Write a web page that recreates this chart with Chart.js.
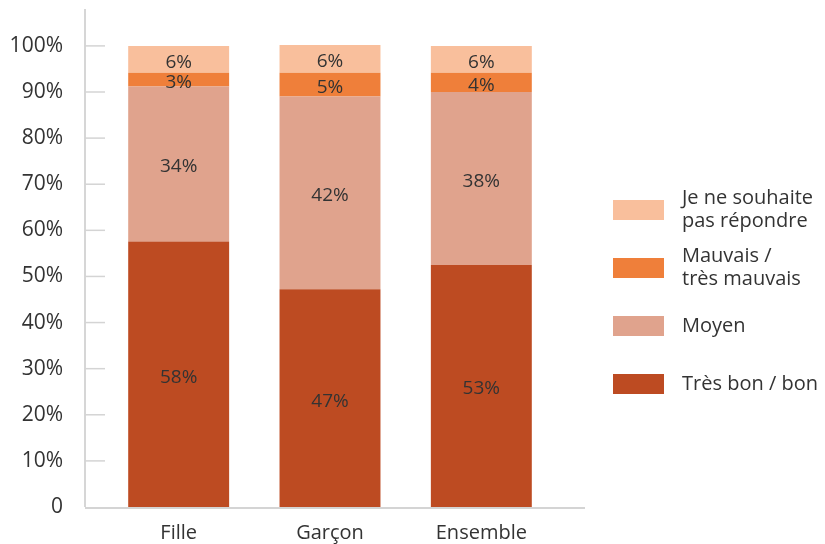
<!DOCTYPE html>
<html>
<head>
<meta charset="utf-8">
<script src="https://cdn.jsdelivr.net/npm/chart.js@4"></script>
<style>
  html, body { margin: 0; padding: 0; background: #fff; }
  #wrap { width: 825px; height: 544px; }
</style>
</head>
<body>
<div id="wrap"><canvas id="chart" width="825" height="544"></canvas></div>
<script>
const categories = ["Fille", "Garçon", "Ensemble"];
const tresBon = [57.6, 47.2, 52.5];
const moyen = [33.6, 41.8, 37.5];
const mauvais = [3.0, 5.2, 4.2];
const nePasRepondre = [5.8, 6.0, 5.8];
const seriesNames = [
  ["Très bon / bon"],
  ["Moyen"],
  ["Mauvais /", "très mauvais"],
  ["Je ne souhaite", "pas répondre"],
];
const yTicks = [0, 10, 20, 30, 40, 50, 60, 70, 80, 90, 100];

const FONT = "'Open Sans', sans-serif";
const TEXT = "#333333";

// axe vertical, petits traits de graduation et axe horizontal (plus longs que la zone du graphe)
const axisLines = {
  id: "axisLines",
  afterDraw(chart) {
    const { ctx } = chart;
    const y = chart.scales.y;
    const x0 = 85;
    ctx.save();
    ctx.strokeStyle = "#c8c8c8";
    ctx.lineWidth = 1.5;
    ctx.beginPath();
    ctx.moveTo(x0, y.getPixelForValue(y.max));
    ctx.lineTo(x0, y.getPixelForValue(0));
    ctx.stroke();
    ctx.strokeStyle = "#d4d4d4";
    y.ticks.forEach(t => {
      if (t.value === 0) return;
      const py = y.getPixelForValue(t.value);
      ctx.beginPath();
      ctx.moveTo(x0, py);
      ctx.lineTo(x0 + 20, py);
      ctx.stroke();
    });
    ctx.lineWidth = 2;
    ctx.beginPath();
    ctx.moveTo(x0, y.getPixelForValue(0) + 1);
    ctx.lineTo(585, y.getPixelForValue(0) + 1);
    ctx.stroke();
    ctx.restore();
  },
};

const barLabels = {
  id: "barLabels",
  afterDatasetsDraw(chart) {
    const { ctx } = chart;
    ctx.save();
    ctx.font = "19px " + FONT;
    ctx.fillStyle = TEXT;
    ctx.textAlign = "center";
    ctx.textBaseline = "middle";
    chart.data.datasets.forEach((ds, i) => {
      chart.getDatasetMeta(i).data.forEach((bar, j) => {
        const { x, y, base } = bar.getProps(["x", "y", "base"], true);
        ctx.fillText(Math.round(ds.data[j]) + "%", x, (y + base) / 2 + 3);
      });
    });
    ctx.restore();
  },
};

const sideLegend = {
  id: "sideLegend",
  afterDraw(chart) {
    const { ctx } = chart;
    const ds = chart.data.datasets;
    ctx.save();
    ctx.font = "20px " + FONT;
    ctx.textBaseline = "middle";
    const n = ds.length;
    for (let k = 0; k < n; k++) {
      const d = ds[n - 1 - k];
      const cy = 210 + k * 58;
      ctx.fillStyle = d.backgroundColor;
      ctx.fillRect(613, cy - 10, 51, 20);
      ctx.fillStyle = TEXT;
      const lines = d.labelLines;
      lines.forEach((ln, li) => {
        ctx.fillText(ln, 682, cy + (li - (lines.length - 1) / 2) * 23);
      });
    }
    ctx.restore();
  },
};

const colors = ["#BD4B22", "#E0A38D", "#EF7F3A", "#F9BF9C"];
const values = [tresBon, moyen, mauvais, nePasRepondre];

new Chart(document.getElementById("chart"), {
  type: "bar",
  data: {
    labels: categories,
    datasets: values.map((v, i) => ({
      label: seriesNames[i].join(" "),
      labelLines: seriesNames[i],
      data: v,
      backgroundColor: colors[i],
      borderWidth: 0,
      barPercentage: 0.667,
      categoryPercentage: 1,
    })),
  },
  options: {
    responsive: false,
    animation: false,
    layout: { padding: { top: 9, right: 268, left: 0, bottom: 0 } },
    plugins: { legend: { display: false }, tooltip: { enabled: false } },
    scales: {
      x: {
        stacked: true,
        grid: { display: false, drawTicks: false },
        border: { display: false },
        afterFit: s => { s.height = 37; },
        ticks: { color: TEXT, font: { family: FONT, size: 20 }, padding: 14, maxRotation: 0 },
      },
      y: {
        stacked: true,
        min: 0,
        max: 108,
        afterBuildTicks: s => { s.ticks = yTicks.map(v => ({ value: v })); },
        afterFit: s => { s.width = 103; s.paddingTop = 0; s.paddingBottom = 0; },
        grid: { display: false, drawTicks: false },
        border: { display: false },
        ticks: {
          color: TEXT,
          padding: 40,
          font: { family: FONT, size: 21 },
          callback: v => (v === 0 ? "0" : v + "%"),
        },
      },
    },
  },
  plugins: [axisLines, barLabels, sideLegend],
});
</script>
</body>
</html>
